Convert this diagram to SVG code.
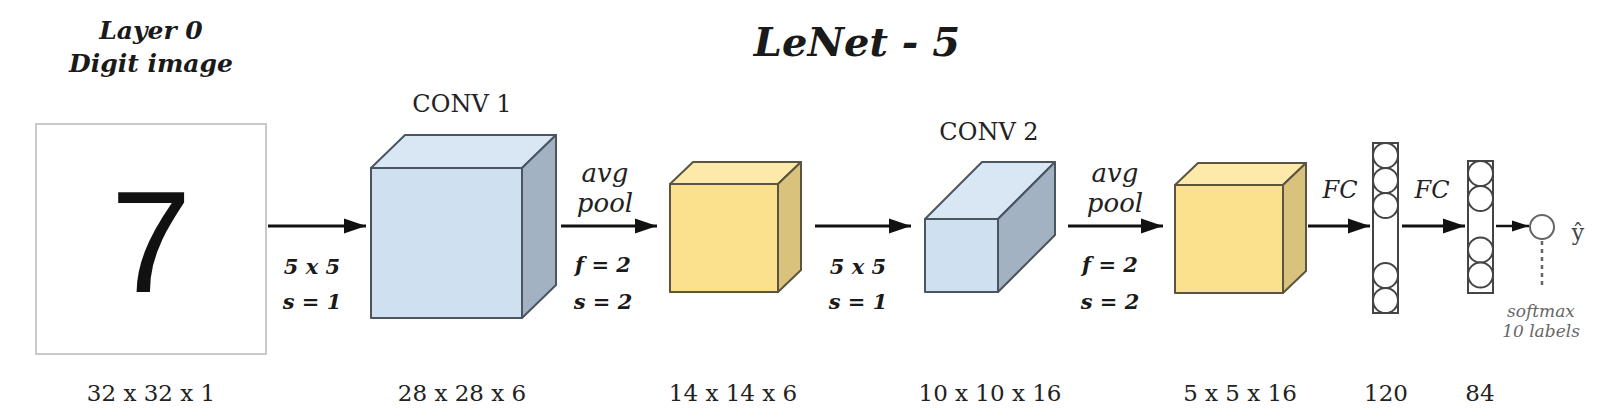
<svg xmlns="http://www.w3.org/2000/svg" width="1604" height="420" viewBox="0 0 1604 420">
  <defs>
    <style>
      .bi { font-family: "DejaVu Serif", "Liberation Serif", serif; font-weight: bold; font-style: italic; fill: #1a1a1a; }
      .it { font-family: "DejaVu Serif", "Liberation Serif", serif; font-style: italic; fill: #222; }
      .rg { font-family: "DejaVu Serif", "Liberation Serif", serif; fill: #222; }
      .small { font-family: "DejaVu Serif", "Liberation Serif", serif; font-style: italic; fill: #666; font-size: 17px; }
      .conv-front { fill: #cfe0f1; stroke: #4b5560; stroke-width: 2; stroke-linejoin: round; }
      .conv-top { fill: #d9e7f5; stroke: #4b5560; stroke-width: 2; stroke-linejoin: round; }
      .conv-side { fill: #a2b2c3; stroke: #4b5560; stroke-width: 2; stroke-linejoin: round; }
      .pool-front { fill: #fbe08d; stroke: #5a5440; stroke-width: 2; stroke-linejoin: round; }
      .pool-top { fill: #fde9a9; stroke: #5a5440; stroke-width: 2; stroke-linejoin: round; }
      .pool-side { fill: #d9c27b; stroke: #5a5440; stroke-width: 2; stroke-linejoin: round; }
      .arrow { stroke: #111; stroke-width: 3; fill: none; marker-end: url(#head); }
      .arrow-s { stroke: #111; stroke-width: 2.5; fill: none; marker-end: url(#head-s); }
      .col { fill: #fff; stroke: #444; stroke-width: 2; }
      .neuron { fill: #fff; stroke: #444; stroke-width: 2; }
    </style>
    <marker id="head" markerUnits="userSpaceOnUse" markerWidth="22" markerHeight="16" refX="22" refY="8" orient="auto">
      <path d="M0,0.5 L22,8 L0,15.5 z" fill="#111"/>
    </marker>
    <marker id="head-s" markerUnits="userSpaceOnUse" markerWidth="17" markerHeight="14" refX="17" refY="7" orient="auto">
      <path d="M0,1.5 L17,7 L0,12.5 z" fill="#111"/>
    </marker>
  </defs>

  <rect width="1604" height="420" fill="#ffffff"/>

  <text class="bi" x="857" y="56" font-size="40" text-anchor="middle">LeNet - 5</text>

  <g id="layer0">
    <text class="bi" x="151" y="39" font-size="25" text-anchor="middle">Layer 0</text>
    <text class="bi" x="151" y="72" font-size="25" text-anchor="middle">Digit image</text>
    <rect x="36" y="124" width="230" height="230" fill="#fff" stroke="#c9c9c9" stroke-width="2"/>
    <text x="151" y="292" font-family="Liberation Sans, Arial, sans-serif" font-size="145" text-anchor="middle" fill="#111">7</text>
    <text class="rg" x="151" y="401" font-size="23" text-anchor="middle">32 x 32 x 1</text>
  </g>

  <g id="conv1">
    <text class="rg" x="462" y="112" font-size="24" text-anchor="middle">CONV 1</text>
    <polygon class="conv-top" points="371,168 405,135 556,135 522,168"/>
    <polygon class="conv-side" points="522,168 556,135 556,285 522,318"/>
    <rect class="conv-front" x="371" y="168" width="151" height="150"/>
    <text class="rg" x="462" y="401" font-size="23" text-anchor="middle">28 x 28 x 6</text>
  </g>

  <g id="pool1">
    <polygon class="pool-top" points="670,184 693,162 801,162 778,184"/>
    <polygon class="pool-side" points="778,184 801,162 801,270 778,292"/>
    <rect class="pool-front" x="670" y="184" width="108" height="108"/>
    <text class="rg" x="733" y="401" font-size="23" text-anchor="middle">14 x 14 x 6</text>
  </g>

  <g id="conv2">
    <text class="rg" x="989" y="140" font-size="24" text-anchor="middle">CONV 2</text>
    <polygon class="conv-top" points="925,219 982,162 1055,162 998,219"/>
    <polygon class="conv-side" points="998,219 1055,162 1055,235 998,292"/>
    <rect class="conv-front" x="925" y="219" width="73" height="73"/>
    <text class="rg" x="990" y="401" font-size="23" text-anchor="middle">10 x 10 x 16</text>
  </g>

  <g id="pool2">
    <polygon class="pool-top" points="1175,185 1198,163 1306,163 1283,185"/>
    <polygon class="pool-side" points="1283,185 1306,163 1306,271 1283,293"/>
    <rect class="pool-front" x="1175" y="185" width="108" height="108"/>
    <text class="rg" x="1240" y="401" font-size="23" text-anchor="middle">5 x 5 x 16</text>
  </g>

  <g id="fc1">
    <rect class="col" x="1373" y="143" width="25" height="170"/>
    <circle class="neuron" cx="1385.5" cy="155.5" r="12.5"/>
    <circle class="neuron" cx="1385.5" cy="180.5" r="12.5"/>
    <circle class="neuron" cx="1385.5" cy="205.5" r="12.5"/>
    <circle class="neuron" cx="1385.5" cy="275.5" r="12.5"/>
    <circle class="neuron" cx="1385.5" cy="300.5" r="12.5"/>
    <text class="rg" x="1386" y="401" font-size="23" text-anchor="middle">120</text>
  </g>

  <g id="fc2">
    <rect class="col" x="1468" y="161" width="25" height="132"/>
    <circle class="neuron" cx="1480.5" cy="173.5" r="12.5"/>
    <circle class="neuron" cx="1480.5" cy="198.5" r="12.5"/>
    <circle class="neuron" cx="1480.5" cy="250" r="12.5"/>
    <circle class="neuron" cx="1480.5" cy="275" r="12.5"/>
    <text class="rg" x="1480" y="401" font-size="23" text-anchor="middle">84</text>
  </g>

  <g id="output">
    <circle cx="1542" cy="227" r="12" fill="#fff" stroke="#666" stroke-width="2"/>
    <line x1="1542" y1="241" x2="1542" y2="286" stroke="#666" stroke-width="2.5" stroke-dasharray="4,4"/>
    <text x="1578" y="240" font-family="DejaVu Serif, Liberation Serif, serif" font-size="22" text-anchor="middle" fill="#444">ŷ</text>
    <text class="small" x="1541" y="317" text-anchor="middle">softmax</text>
    <text class="small" x="1541" y="337" text-anchor="middle">10 labels</text>
  </g>

  <g id="connectors">
    <line class="arrow" x1="268" y1="226" x2="366" y2="226"/>
    <line class="arrow" x1="561" y1="226" x2="657" y2="226"/>
    <line class="arrow" x1="815" y1="226" x2="911" y2="226"/>
    <line class="arrow" x1="1068" y1="226" x2="1163" y2="226"/>
    <line class="arrow" x1="1308" y1="226" x2="1370" y2="226"/>
    <line class="arrow" x1="1402" y1="226" x2="1465" y2="226"/>
    <line class="arrow-s" x1="1496" y1="226" x2="1529" y2="226"/>
  </g>

  <g id="edge-labels">
    <text class="bi" x="312" y="274" font-size="21" text-anchor="middle">5 x 5</text>
    <text class="bi" x="312" y="309" font-size="21" text-anchor="middle">s = 1</text>
    <text class="it" x="605" y="182" font-size="26" text-anchor="middle">avg</text>
    <text class="it" x="605" y="212" font-size="26" text-anchor="middle">pool</text>
    <text class="bi" x="603" y="272" font-size="21" text-anchor="middle">f = 2</text>
    <text class="bi" x="603" y="309" font-size="21" text-anchor="middle">s = 2</text>
    <text class="bi" x="858" y="274" font-size="21" text-anchor="middle">5 x 5</text>
    <text class="bi" x="858" y="309" font-size="21" text-anchor="middle">s = 1</text>
    <text class="it" x="1115" y="182" font-size="26" text-anchor="middle">avg</text>
    <text class="it" x="1115" y="212" font-size="26" text-anchor="middle">pool</text>
    <text class="bi" x="1110" y="272" font-size="21" text-anchor="middle">f = 2</text>
    <text class="bi" x="1110" y="309" font-size="21" text-anchor="middle">s = 2</text>
    <text class="it" x="1340" y="198" font-size="24" text-anchor="middle">FC</text>
    <text class="it" x="1432" y="198" font-size="24" text-anchor="middle">FC</text>
  </g>
</svg>
